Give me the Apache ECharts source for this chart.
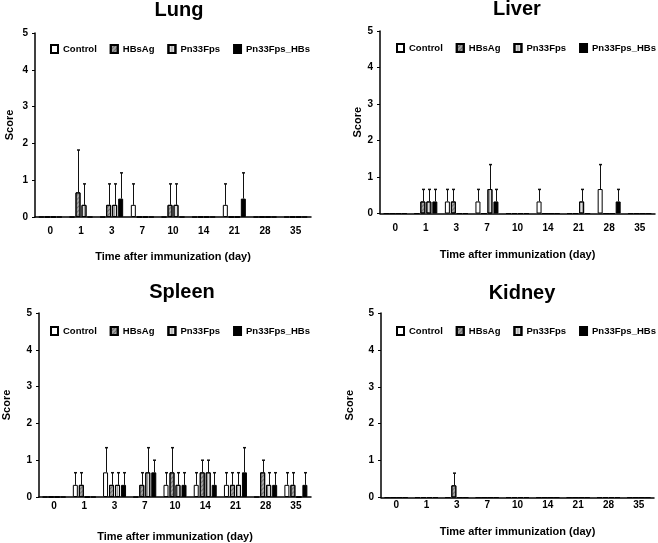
<!DOCTYPE html>
<html>
<head>
<meta charset="utf-8">
<script src="https://cdn.jsdelivr.net/npm/echarts@6/dist/echarts.min.js"></script>
<style>html,body{margin:0;padding:0;background:#fff;}#c{width:658px;height:543px;}</style>
</head>
<body>
<div id="c"></div>
<script>
// ---- data ----
const categories = ['0', '1', '3', '7', '10', '14', '21', '28', '35'];
const seriesNames = ['Control', 'HBsAg', 'Pn33Fps', 'Pn33Fps_HBs'];
const panelTitles = ['Lung', 'Liver', 'Spleen', 'Kidney'];
const yTicks = [0, 1, 2, 3, 4, 5];

// Lung (mean, error = SD upward)
const lungControl     = [0, 0, 0, 0.33, 0, 0, 0.33, 0, 0];
const lungControlErr  = [0, 0, 0, 0.57, 0, 0, 0.57, 0, 0];
const lungHBsAg       = [0, 0.67, 0.33, 0, 0.33, 0, 0, 0, 0];
const lungHBsAgErr    = [0, 1.15, 0.57, 0, 0.57, 0, 0, 0, 0];
const lungPn33        = [0, 0.33, 0.33, 0, 0.33, 0, 0, 0, 0];
const lungPn33Err     = [0, 0.57, 0.57, 0, 0.57, 0, 0, 0, 0];
const lungPnHBs       = [0, 0, 0.5, 0, 0, 0, 0.5, 0, 0];
const lungPnHBsErr    = [0, 0, 0.7, 0, 0, 0, 0.7, 0, 0];

// Liver
const liverControl    = [0, 0, 0.33, 0.33, 0, 0.33, 0, 0.67, 0];
const liverControlErr = [0, 0, 0.33, 0.33, 0, 0.33, 0, 0.67, 0];
const liverHBsAg      = [0, 0.33, 0.33, 0, 0, 0, 0, 0, 0];
const liverHBsAgErr   = [0, 0.33, 0.33, 0, 0, 0, 0, 0, 0];
const liverPn33       = [0, 0.33, 0, 0.67, 0, 0, 0.33, 0, 0];
const liverPn33Err    = [0, 0.33, 0, 0.67, 0, 0, 0.33, 0, 0];
const liverPnHBs      = [0, 0.33, 0, 0.33, 0, 0, 0, 0.33, 0];
const liverPnHBsErr   = [0, 0.33, 0, 0.33, 0, 0, 0, 0.33, 0];

// Spleen
const spleenControl    = [0, 0.33, 0.67, 0, 0.33, 0.33, 0.33, 0, 0.33];
const spleenControlErr = [0, 0.33, 0.67, 0, 0.33, 0.33, 0.33, 0, 0.33];
const spleenHBsAg      = [0, 0.33, 0.33, 0.33, 0.67, 0.67, 0.33, 0.67, 0.33];
const spleenHBsAgErr   = [0, 0.33, 0.33, 0.33, 0.67, 0.33, 0.33, 0.33, 0.33];
const spleenPn33       = [0, 0, 0.33, 0.67, 0.33, 0.67, 0.33, 0.33, 0];
const spleenPn33Err    = [0, 0, 0.33, 0.67, 0.33, 0.33, 0.33, 0.33, 0];
const spleenPnHBs      = [0, 0, 0.33, 0.67, 0.33, 0.33, 0.67, 0.33, 0.33];
const spleenPnHBsErr   = [0, 0, 0.33, 0.33, 0.33, 0.33, 0.67, 0.33, 0.33];

// Kidney
const kidneyControl    = [0, 0, 0, 0, 0, 0, 0, 0, 0];
const kidneyControlErr = [0, 0, 0, 0, 0, 0, 0, 0, 0];
const kidneyHBsAg      = [0, 0, 0.33, 0, 0, 0, 0, 0, 0];
const kidneyHBsAgErr   = [0, 0, 0.33, 0, 0, 0, 0, 0, 0];
const kidneyPn33       = [0, 0, 0, 0, 0, 0, 0, 0, 0];
const kidneyPn33Err    = [0, 0, 0, 0, 0, 0, 0, 0, 0];
const kidneyPnHBs      = [0, 0, 0, 0, 0, 0, 0, 0, 0];
const kidneyPnHBsErr   = [0, 0, 0, 0, 0, 0, 0, 0, 0];

const panelValues = [
  [lungControl, lungHBsAg, lungPn33, lungPnHBs],
  [liverControl, liverHBsAg, liverPn33, liverPnHBs],
  [spleenControl, spleenHBsAg, spleenPn33, spleenPnHBs],
  [kidneyControl, kidneyHBsAg, kidneyPn33, kidneyPnHBs]
];
const panelErrors = [
  [lungControlErr, lungHBsAgErr, lungPn33Err, lungPnHBsErr],
  [liverControlErr, liverHBsAgErr, liverPn33Err, liverPnHBsErr],
  [spleenControlErr, spleenHBsAgErr, spleenPn33Err, spleenPnHBsErr],
  [kidneyControlErr, kidneyHBsAgErr, kidneyPn33Err, kidneyPnHBsErr]
];

// ---- layout / style ----
const FONT = '"Liberation Sans", Arial, sans-serif';
const BAR_W = 5;
const BAR_GAP = 0.2;
const SLOT = BAR_W * (1 + BAR_GAP);

const grids = [
  { left: 35,  top: 33,  width: 276, height: 184 },
  { left: 380, top: 31,  width: 275, height: 182.5 },
  { left: 38,  top: 313, width: 273, height: 184.5 },
  { left: 381, top: 313, width: 273, height: 184.5 }
];
const titlePos = [[179, 10], [517, 9], [182, 292], [522, 293]];
const legendPos = [[50, 44], [396, 43], [50, 326], [396, 326]];
const xNameGap = [34, 36, 34, 29];
const xLabelMargin = [9, 10, 4, 3];
const yNameGap = [20, 17, 27, 26];

const itemStyles = [
  { color: '#ffffff', borderColor: '#000', borderWidth: 1 },
  { color: '#a2a2a2', borderColor: '#000', borderWidth: 1,
    decal: { symbol: 'rect', symbolSize: 1, color: 'rgba(60,60,60,0.5)', dashArrayX: [1, 0], dashArrayY: [1, 2], rotation: -Math.PI / 4 } },
  { color: '#dedede', borderColor: '#000', borderWidth: 1,
    decal: { symbol: 'rect', symbolSize: 1, color: 'rgba(110,110,110,0.6)', dashArrayX: [1, 1.5], dashArrayY: [1, 0], rotation: 0 } },
  { color: '#000000', borderColor: '#000', borderWidth: 1 }
];

const option = {
  animation: false,
  backgroundColor: '#fff',
  grid: grids.map(g => Object.assign({}, g)),
  graphic: panelTitles.map((t, i) => ({
    type: 'text', x: titlePos[i][0], y: titlePos[i][1],
    style: { text: t, font: 'bold 20px ' + FONT, fill: '#000', textAlign: 'center', textVerticalAlign: 'middle' }
  })),
  legend: legendPos.map(p => ({
    left: p[0], top: p[1], width: 400, padding: 0, data: seriesNames, icon: 'rect',
    itemWidth: 7, itemHeight: 8, itemGap: 13,
    selectedMode: false,
    textStyle: { fontFamily: FONT, fontWeight: 'bold', fontSize: 9.5, color: '#000' }
  })),
  xAxis: grids.map((g, i) => ({
    type: 'category', gridIndex: i, data: categories,
    name: 'Time after immunization (day)', nameLocation: 'middle', nameGap: xNameGap[i],
    nameTextStyle: { fontFamily: FONT, fontWeight: 'bold', fontSize: 11, color: '#000' },
    axisLine: { lineStyle: { color: '#000', width: 1.5 } },
    axisTick: { alignWithLabel: true, length: 3, lineStyle: { color: '#000', width: 1 } },
    axisLabel: { fontFamily: FONT, fontWeight: 'bold', fontSize: 10, color: '#000', margin: xLabelMargin[i], interval: 0 },
    splitLine: { show: false }
  })),
  yAxis: grids.map((g, i) => ({
    type: 'value', gridIndex: i, min: 0, max: 5, interval: 1,
    name: 'Score', nameLocation: 'middle', nameGap: yNameGap[i], nameRotate: 90,
    nameTextStyle: { fontFamily: FONT, fontWeight: 'bold', fontSize: 11, color: '#000' },
    axisLine: { show: true, lineStyle: { color: '#000', width: 1.5 } },
    axisTick: { show: true, length: 3, lineStyle: { color: '#000', width: 1 } },
    axisLabel: { fontFamily: FONT, fontWeight: 'bold', fontSize: 10, color: '#000', margin: 7,
      formatter: v => String(yTicks[yTicks.indexOf(v)]) },
    splitLine: { show: false }
  })),
  series: []
};

panelValues.forEach((vals, g) => {
  vals.forEach((arr, k) => {
    option.series.push({
      type: 'bar', name: seriesNames[k], xAxisIndex: g, yAxisIndex: g,
      data: arr, barWidth: BAR_W, barGap: (BAR_GAP * 100) + '%',
      itemStyle: itemStyles[k], emphasis: { disabled: true }, z: 2
    });
  });
});
panelValues.forEach((vals, g) => {
  vals.forEach((arr, k) => {
    const errs = panelErrors[g][k];
    option.series.push({
      type: 'custom', xAxisIndex: g, yAxisIndex: g, silent: true, z: 3,
      encode: { x: 0, y: 1 },
      data: arr.map((v, i) => [i, v, errs[i]]),
      renderItem: (params, api) => {
        const v = api.value(1), e = api.value(2);
        if (!(e > 0)) return null;
        const base = api.coord([api.value(0), v]);
        const top = api.coord([api.value(0), v + e]);
        const x = Math.round(base[0] + (k - 1.5) * SLOT) + 0.5;
        return { type: 'group', children: [
          { type: 'line', shape: { x1: x, y1: base[1], x2: x, y2: top[1] }, style: { stroke: '#111', lineWidth: 1 } },
          { type: 'line', shape: { x1: x - 1.5, y1: top[1], x2: x + 1.5, y2: top[1] }, style: { stroke: '#111', lineWidth: 1.5 } }
        ] };
      }
    });
  });
});

const chart = echarts.init(document.getElementById('c'), null, { renderer: 'canvas' });
chart.setOption(option);
</script>
</body>
</html>
